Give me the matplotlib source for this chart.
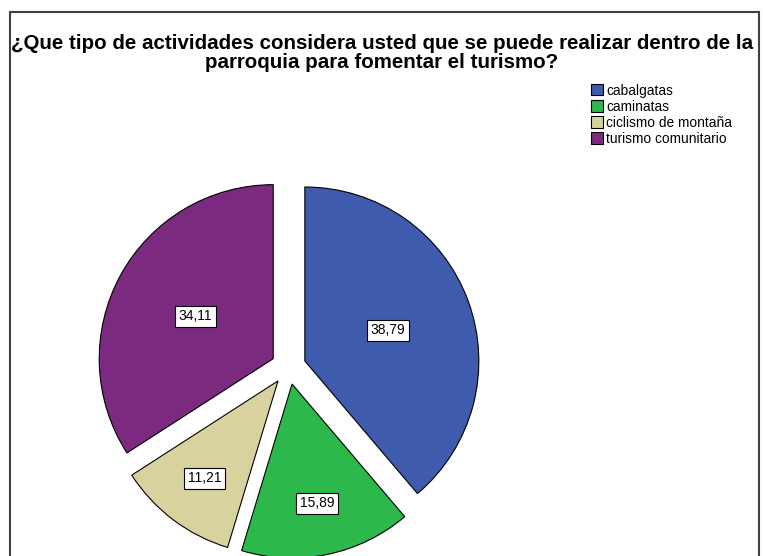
import matplotlib.pyplot as plt
import numpy as np
from matplotlib.patches import Rectangle

plt.rcParams['font.family'] = ['Liberation Sans', 'DejaVu Sans']

categories = ['cabalgatas', 'caminatas', 'ciclismo de montaña', 'turismo comunitario']
values = [38.79, 15.89, 11.21, 34.11]
colors = ['#3E5BAE', '#2DB84B', '#D8D29E', '#7B2A80']
title = '¿Que tipo de actividades considera usted que se puede realizar dentro de la\nparroquia para fomentar el turismo?'

fig = plt.figure(figsize=(7.63, 5.56), dpi=100)
W, H = 763, 556

# chart frame
fig.patches.append(Rectangle((10 / W, -0.1), 749 / W, (H - 12) / H + 0.1,
                             transform=fig.transFigure, fill=False,
                             edgecolor='#404040', linewidth=1.5))

fig.text(382 / W, 1 - 53 / H, title, ha='center', va='center',
         fontsize=14.8, fontweight='bold', linespacing=1.05)

# pie axes: radius 1 -> 174 px
L = 1.3
size = 2 * L * 174
cx, cy = 288.5, H - 367
ax = fig.add_axes([(cx - size / 2) / W, (cy - size / 2) / H, size / W, size / H])

explode = [0.1] * len(values)
wedges, _ = ax.pie(values, colors=colors, startangle=90, counterclock=False,
                   explode=explode, radius=1,
                   wedgeprops=dict(edgecolor='black', linewidth=0.8))
ax.set_xlim(-L, L)
ax.set_ylim(-L, L)
ax.set_aspect('equal')
ax.axis('off')

for w, v in zip(wedges, values):
    ang = np.deg2rad((w.theta1 + w.theta2) / 2)
    c = w.center
    d = 0.51 if v > 30 else 0.7
    ax.text(c[0] + d * np.cos(ang), c[1] + d * np.sin(ang),
            f'{v:.2f}'.replace('.', ','), ha='center', va='center', fontsize=10,
            bbox=dict(boxstyle='square,pad=0.25', facecolor='white',
                      edgecolor='black', linewidth=0.8))

leg = fig.legend(wedges, categories, loc='upper left',
                 bbox_to_anchor=(585 / W, 1 - 78 / H), frameon=False,
                 fontsize=9.9, handlelength=0.9, handleheight=0.9,
                 handletextpad=0.25, labelspacing=0.15, borderaxespad=0)

fig.savefig('out.png', dpi=100)
